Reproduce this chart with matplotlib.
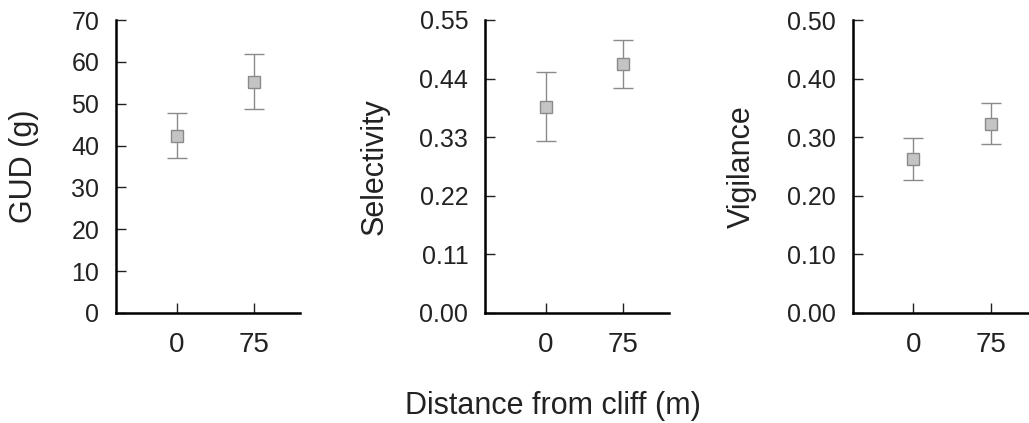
import matplotlib
matplotlib.use("Agg")
import matplotlib.pyplot as plt

plt.rcParams['font.family'] = ['Liberation Sans', 'DejaVu Sans']

# x categories (distance from cliff, m)
distances = ['0', '75']

# panel values: means and error bar ends
gud_mean = [42.4, 55.3]
gud_err = [5.3, 6.5]

sel_mean = [0.387, 0.467]
sel_err = [0.065, 0.045]

vig_mean = [0.263, 0.323]
vig_err = [0.036, 0.035]

panels = [
    ('GUD (g)', gud_mean, gud_err, [0, 10, 20, 30, 40, 50, 60, 70], '{:.0f}'),
    ('Selectivity', sel_mean, sel_err, [0.0, 0.11, 0.22, 0.33, 0.44, 0.55], '{:.2f}'),
    ('Vigilance', vig_mean, vig_err, [0.0, 0.10, 0.20, 0.30, 0.40, 0.50], '{:.2f}'),
]

W, H = 1029, 423
fig = plt.figure(figsize=(W / 100, H / 100), dpi=100)

# axes boxes in pixels: left edge, width ; label x in axes fraction
lefts = [116, 485, 852.7]
label_x = [-0.42, -0.521, -0.522]
bottom_px, top_px = 313, 20

for i, (ylab, mean, err, yticks, fmt) in enumerate(panels):
    ax = fig.add_axes([lefts[i] / W, 1 - bottom_px / H, 184 / W, (bottom_px - top_px) / H])
    x = list(range(len(distances)))
    ax.errorbar(x, mean, yerr=err, fmt='s', ms=8.5, mfc='#c4c4c4', mec='#8a8a8a',
                mew=1.0, ecolor='#8a8a8a', elinewidth=1.0, capsize=7.5, capthick=1.0)
    ax.set_xlim(-0.78, 1.59)
    ax.set_ylim(yticks[0], yticks[-1])
    ax.set_yticks(yticks)
    ax.set_yticklabels([fmt.format(v) for v in yticks])
    ax.set_xticks(x)
    ax.set_xticklabels(distances)
    for s in ['top', 'right']:
        ax.spines[s].set_visible(False)
    for s in ['left', 'bottom']:
        ax.spines[s].set_linewidth(1.8)
    ax.tick_params(axis='y', direction='in', length=7.5, width=1.0, pad=12,
                   labelsize=18, colors='#222222')
    ax.tick_params(axis='x', direction='in', length=7.5, width=1.0, pad=14,
                   labelsize=20, colors='#222222')
    ax.set_ylabel(ylab, fontsize=22, color='#222222')
    ax.yaxis.set_label_coords(label_x[i], 0.5)

fig.text(553 / W, 1 - 414 / H, 'Distance from cliff (m)', ha='center',
         va='baseline', fontsize=22, color='#222222')

fig.savefig('out.png', dpi=100)
